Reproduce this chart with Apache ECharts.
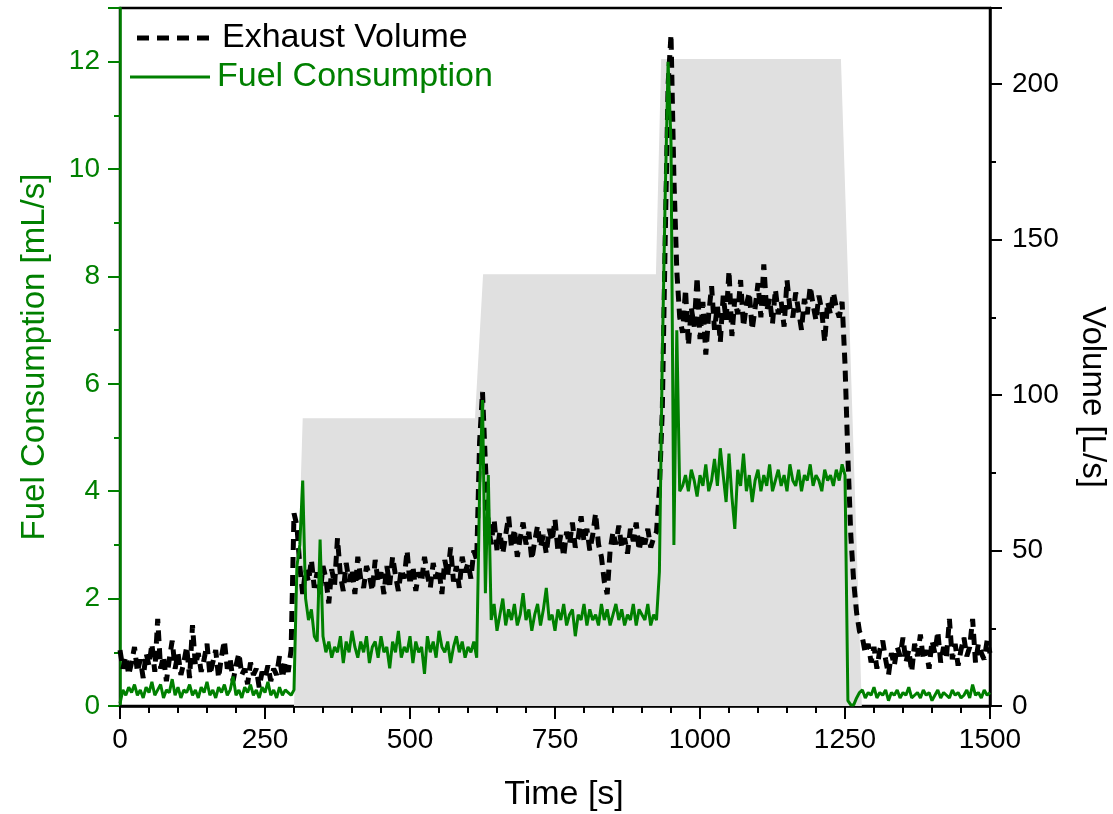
<!DOCTYPE html>
<html>
<head>
<meta charset="utf-8">
<script src="https://cdn.jsdelivr.net/npm/echarts@6/dist/echarts.min.js"></script>
<style>
html,body{margin:0;padding:0;background:#fff;}
#chart{width:1113px;height:814px;}
</style>
</head>
<body>
<div id="chart"></div>
<script>
// Sampling of the recorded signals (seconds)
const T_START = 0;
const T_STEP = 5;

// Exhaust volume [L/s] (right axis), one value every 5 s from 0 to 1500 s
const exhaustVolume = [
  18,12,16,10,14,19,11,15,9,17,
  13,20,11,28,12,16,8,15,21,12,
  17,10,14,19,9,26,13,17,11,15,
  20,10,14,18,9,16,21,12,15,8,
  13,17,10,12,7,14,10,12,6,11,
  9,13,8,12,10,16,9,14,11,18,
  62,58,
  45,36,44,40,47,38,43,36,45,41,
  33,44,39,54,42,37,46,40,44,36,
  48,41,38,45,42,37,47,40,43,36,
  45,39,48,42,37,44,41,50,39,45,
  37,43,40,48,42,38,46,41,44,36,
  47,42,51,40,45,38,48,43,46,41,
  50,47,
  85,101,78,58,
  52,60,50,56,49,55,61,51,57,48,
  54,59,52,56,47,53,58,51,55,49,
  57,53,60,50,55,48,56,52,59,51,
  54,61,53,57,50,55,62,52,48,40,
  36,50,56,52,58,51,54,49,57,53,
  59,50,55,52,57,51,54,56,
  70,95,150,200,216,170,140,125,
  120,134,116,128,122,138,118,130,113,126,
  135,121,129,117,132,124,140,119,131,126,
  137,122,129,133,121,128,136,125,142,127,
  131,123,134,126,130,122,137,128,125,133,
  127,121,131,126,135,129,124,132,127,117,
  130,126,133,128,125,130,
  110,80,55,40,30,24,
  22,17,20,14,19,12,18,21,15,10,
  17,13,19,16,22,14,18,11,20,16,
  23,15,18,12,21,17,24,14,19,16,
  28,15,20,13,18,22,16,19,28,14,
  20,17,15,21,17
];

// Fuel consumption [mL/s] (left axis), one value every 5 s from 0 to 1500 s
const fuelConsumption = [
  0.05,0.3,0.2,0.35,0.25,0.4,0.2,0.3,0.15,0.35,
  0.25,0.45,0.2,0.3,0.4,0.15,0.3,0.25,0.5,0.2,
  0.35,0.15,0.3,0.25,0.4,0.2,0.3,0.15,0.35,0.25,
  0.45,0.2,0.3,0.15,0.35,0.25,0.4,0.2,0.3,0.55,
  0.2,0.3,0.15,0.35,0.25,0.4,0.2,0.3,0.15,0.35,
  0.25,0.45,0.2,0.3,0.15,0.35,0.2,0.3,0.25,0.2,
  0.3,2.6,
  3.0,4.2,2.0,1.6,1.8,1.3,1.2,3.1,1.3,1.0,
  1.2,0.9,1.1,1.0,1.3,0.8,1.2,1.0,1.4,1.1,
  0.9,1.2,1.0,1.3,0.8,1.1,1.2,0.9,1.3,1.0,
  1.1,0.7,1.2,1.0,1.4,0.9,1.1,1.0,1.3,0.8,
  1.2,1.0,1.1,0.6,1.3,1.0,1.2,0.9,1.4,1.1,
  1.0,1.2,0.8,1.1,1.3,1.0,1.2,0.9,1.1,1.0,
  1.2,0.9,
  4.0,5.7,2.1,4.3,
  1.6,1.9,1.4,1.7,2.0,1.5,1.8,1.6,1.9,1.5,
  1.7,2.1,1.6,1.8,1.4,1.7,1.9,1.5,1.8,2.2,
  1.6,1.7,1.4,1.8,1.6,1.9,1.5,1.7,1.8,1.3,
  1.7,1.6,1.9,1.5,1.8,1.6,1.7,1.5,1.9,1.6,
  1.8,1.5,1.7,1.9,1.6,1.8,1.5,1.7,1.6,1.9,
  1.5,1.8,1.7,1.6,1.9,1.5,1.7,1.6,
  2.5,6.5,9.5,12.0,10.5,3.0,7.0,4.0,
  4.1,4.3,4.0,4.4,4.2,3.9,4.3,4.1,4.5,4.0,
  4.2,4.6,4.1,4.8,4.3,3.8,4.7,3.9,3.3,4.4,
  4.1,4.7,4.0,4.3,3.8,4.2,4.4,4.0,4.3,4.1,
  4.5,4.0,4.2,4.4,4.1,4.3,4.0,4.5,4.2,4.1,
  4.4,4.0,4.3,4.2,4.5,4.1,4.3,4.2,4.0,4.4,
  4.2,4.3,4.1,4.4,4.2,4.5,
  4.3,0.1,0.02,0.02,0.15,0.25,
  0.3,0.15,0.25,0.2,0.35,0.15,0.25,0.2,0.3,0.1,
  0.25,0.2,0.3,0.15,0.25,0.2,0.35,0.15,0.2,0.25,
  0.15,0.3,0.2,0.25,0.1,0.2,0.3,0.15,0.25,0.2,
  0.15,0.3,0.2,0.25,0.15,0.2,0.3,0.15,0.4,0.2,
  0.25,0.15,0.3,0.2,0.25
];

// Grey background load profile (left axis units)
const loadTime  = [0, 300, 315, 612, 626, 924, 933, 1243, 1279, 1500];
const loadLevel = [0, 0, 5.36, 5.36, 8.04, 8.04, 12.05, 12.05, 0, 0];

const FONT = '"Liberation Sans", Arial, Helvetica, sans-serif';
const GREEN = '#008000';

const pairs = vals => vals.map((v, i) => [T_START + i * T_STEP, v]);
const loadData = loadTime.map((t, i) => [t, loadLevel[i]]);

const chart = echarts.init(document.getElementById('chart'), null, {renderer: 'canvas'});
chart.setOption({
  animation: false,
  backgroundColor: '#fff',
  textStyle: {fontFamily: FONT},
  grid: {
    left: 120, right: 123, top: 8, bottom: 108,
    outerBoundsMode: 'none', containLabel: false,
    show: true, borderColor: '#000', borderWidth: 2.5, backgroundColor: 'transparent'
  },
  legend: [
    {
      data: [{name: 'Exhaust Volume', icon: 'path://M0,0h12v5h-12z M20,0h12v5h-12z M40,0h12v5h-12z M60,0h12v5h-12z'}],
      left: 137, top: 21, padding: 0,
      itemWidth: 72, itemHeight: 5,
      textStyle: {fontFamily: FONT, fontSize: 34, color: '#000', padding: [0, 0, 0, 8]}
    },
    {
      data: [{name: 'Fuel Consumption', icon: 'path://M0,0h80v3h-80z'}],
      left: 130, top: 60, padding: 0,
      itemWidth: 80, itemHeight: 3,
      textStyle: {fontFamily: FONT, fontSize: 34, color: GREEN, padding: [0, 0, 0, 2]}
    }
  ],
  graphic: [
    {
      type: 'text', x: 1092, y: 397, rotation: -Math.PI / 2,
      style: {text: 'Volume [L/s]', font: '33px "Liberation Sans", Arial, sans-serif', fill: '#000', align: 'center', verticalAlign: 'middle'}
    }
  ],
  xAxis: {
    type: 'value', min: 0, max: 1500, interval: 250,
    name: 'Time [s]', nameLocation: 'middle', nameGap: 72,
    nameTextStyle: {fontFamily: FONT, fontSize: 34, color: '#000', padding: [0, 0, 0, 18]},
    axisLine: {lineStyle: {color: '#000', width: 2.5}},
    axisTick: {length: 13, lineStyle: {color: '#000', width: 2}},
    minorTick: {show: true, splitNumber: 5, length: 7, lineStyle: {color: '#000', width: 2}},
    splitLine: {show: false},
    axisLabel: {fontFamily: FONT, fontSize: 28, color: '#000', margin: 20, formatter: v => String(v)}
  },
  yAxis: [
    {
      type: 'value', position: 'left', min: 0, max: 13, interval: 2,
      name: 'Fuel Consumption [mL/s]', nameLocation: 'middle', nameGap: 69, nameRotate: 90,
      nameTextStyle: {fontFamily: FONT, fontSize: 33, color: GREEN},
      axisLine: {show: true, lineStyle: {color: GREEN, width: 2.5}},
      axisTick: {show: true, length: 12, lineStyle: {color: GREEN, width: 2}},
      minorTick: {show: true, splitNumber: 2, length: 6, lineStyle: {color: GREEN, width: 2}},
      splitLine: {show: false},
      axisLabel: {fontFamily: FONT, fontSize: 28, color: GREEN, margin: 20, showMaxLabel: false}
    },
    {
      type: 'value', position: 'right', min: 0, max: 224.5, interval: 50,
      axisLine: {show: true, lineStyle: {color: '#000', width: 2.5}},
      axisTick: {show: true, length: 12, lineStyle: {color: '#000', width: 2}},
      minorTick: {show: true, splitNumber: 2, length: 6, lineStyle: {color: '#000', width: 2}},
      splitLine: {show: false},
      axisLabel: {fontFamily: FONT, fontSize: 28, color: '#000', margin: 22, showMaxLabel: false}
    }
  ],
  series: [
    {
      name: 'Load', type: 'line', yAxisIndex: 0, data: loadData,
      showSymbol: false, symbol: 'none', silent: true, z: 1,
      lineStyle: {width: 0, color: '#e0e0e0'},
      areaStyle: {color: '#e0e0e0', opacity: 1}
    },
    {
      name: 'Exhaust Volume', type: 'line', yAxisIndex: 1, data: pairs(exhaustVolume),
      showSymbol: false, symbol: 'none', z: 3,
      lineStyle: {color: '#000', width: 5, type: [11, 7]},
      itemStyle: {color: '#000'}
    },
    {
      name: 'Fuel Consumption', type: 'line', yAxisIndex: 0, data: pairs(fuelConsumption),
      showSymbol: false, symbol: 'none', z: 4,
      lineStyle: {color: GREEN, width: 3},
      itemStyle: {color: GREEN}
    }
  ]
});
</script>
</body>
</html>
